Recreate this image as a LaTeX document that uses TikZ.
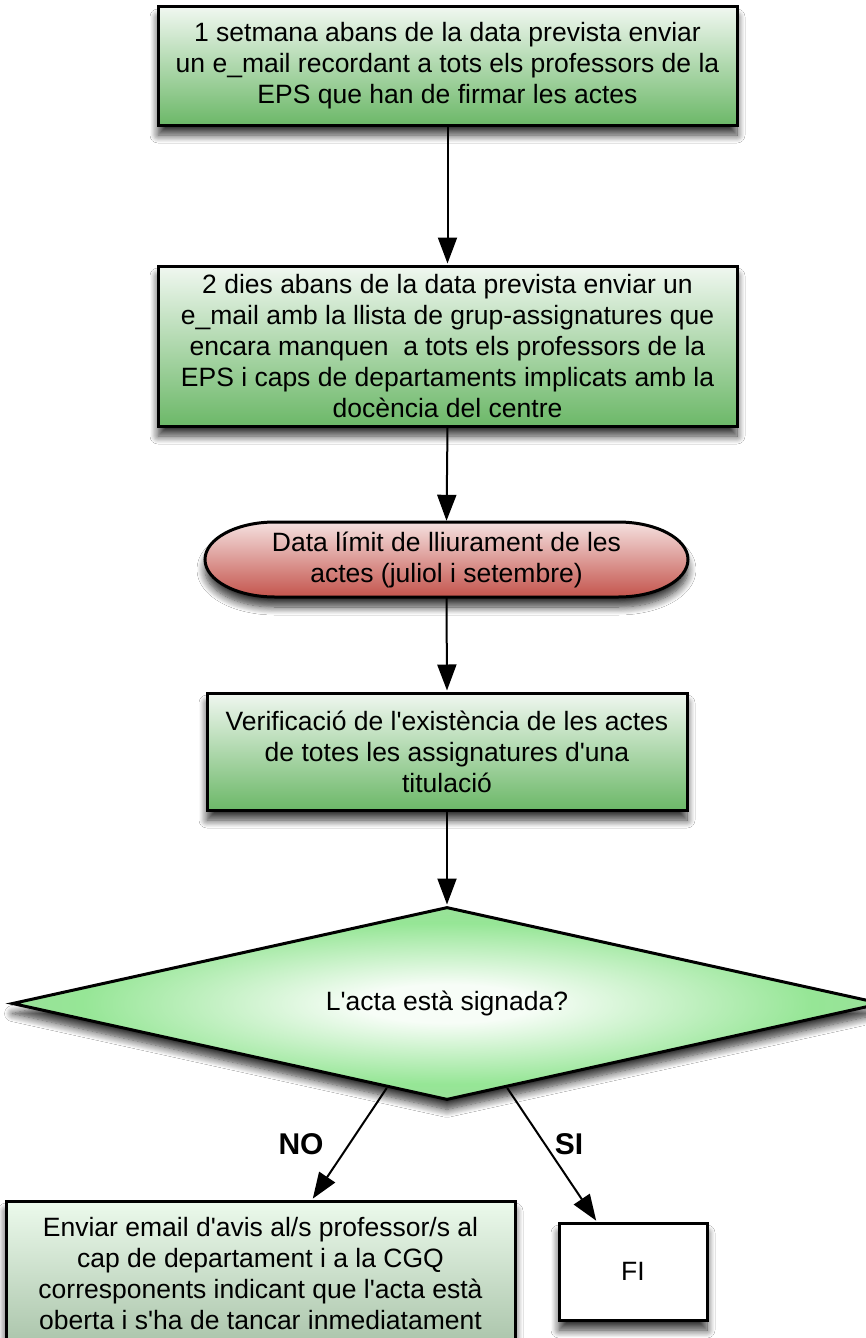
\documentclass[tikz,border=0pt]{standalone}
\usepackage{fontspec}
\setmainfont{Liberation Sans}
\usetikzlibrary{arrows.meta,shapes.geometric,shadows.blur,calc}
\newcommand\ap{\textquotesingle}
\definecolor{gtop}{RGB}{240,247,240}
\definecolor{gbot}{RGB}{108,184,104}
\definecolor{rtop}{RGB}{245,225,224}
\definecolor{rbot}{RGB}{196,84,76}
\definecolor{etop}{RGB}{236,250,236}
\definecolor{emid}{RGB}{162,230,162}
\definecolor{ebot}{RGB}{170,196,170}
\definecolor{dc0}{RGB}{247,253,247}
\definecolor{dc1}{RGB}{150,230,150}
\definecolor{dc2}{RGB}{168,196,168}
\pgfdeclareradialshading{diamsh}{\pgfpoint{0bp}{0bp}}{%
  color(0bp)=(dc0); color(5bp)=(dc0); color(21bp)=(dc1); color(48bp)=(dc2); color(70bp)=(dc2)}
\tikzset{
  txt/.style={font=\fontsize{26.5}{31}\selectfont, align=center, inner sep=0pt},
  shad/.style={blur shadow={shadow xshift=0pt, shadow yshift=-10pt, shadow blur radius=8pt, shadow blur steps=10, shadow opacity=80}},
  gbox/.style={txt, draw, line width=3pt, rectangle, top color=gtop, bottom color=gbot, shad},
  rshape/.style={draw, line width=3pt, top color=rtop, bottom color=rbot, shad},
  dia/.style={txt, draw, line width=3pt, diamond, aspect=4.5, shading=diamsh, shad},
  ebx/.style={txt, draw, line width=3pt, rectangle, top color=etop, middle color=emid, bottom color=ebot, shad},
  wbox/.style={txt, draw, line width=3pt, rectangle, fill=white, shad},
  lbl/.style={font=\fontsize{30}{34}\selectfont\bfseries, inner sep=0pt},
  conn/.style={line width=2pt, -{Triangle[length=26pt,width=19pt,fill=black,color=black]}, shorten >=1pt}
}
\begin{document}
\begin{tikzpicture}[x=1pt,y=-1pt]
\useasboundingbox[fill=white] (0,0) rectangle (865,1338);
\node[gbox, minimum width=579pt, minimum height=118pt] (b1) at (447.5,66)
  {1 setmana abans de la data prevista enviar\\un e\_mail recordant a tots els professors de la\\EPS que han de firmar les actes};
\node[gbox, minimum width=579pt, minimum height=160pt] (b2) at (447.5,346)
  {2 dies abans de la data prevista enviar un\\e\_mail amb la llista de grup-assignatures que\\encara manquen~ a tots els professors de la\\EPS i caps de departaments implicats amb la\\docència del centre};
% terminal shape with elliptical ends
\path[rshape] (275,522) -- (618,522) arc[start angle=-90, end angle=90, x radius=70, y radius=37.5]
  -- (275,597) arc[start angle=90, end angle=270, x radius=70, y radius=37.5] -- cycle;
\node[txt, minimum width=483pt, minimum height=75pt] (e1) at (446.5,559.5)
  {Data límit de lliurament de les\\actes (juliol i setembre)};
\node[gbox, minimum width=480pt, minimum height=117pt] (b3) at (447,751.5)
  {Verificació de l\ap existència de les actes\\de totes les assignatures d\ap una\\titulació};
\node[dia, minimum width=870pt, minimum height=193pt, inner sep=0pt] (d) at (447,1003.5)
  {L\ap acta està signada?};
\node[ebx, minimum width=509pt, minimum height=145pt] (b4) at (260.5,1273.5)
  {Enviar email d\ap avis al/s professor/s al\\cap de departament i a la CGQ\\corresponents indicant que l\ap acta està\\oberta i s\ap ha de tancar inmediatament};
\node[wbox, minimum width=148pt, minimum height=97pt] (fi) at (633,1271.5) {FI};
\node[lbl] (no) at (301,1144) {NO};
\node[lbl] (si) at (569,1144) {SI};
\coordinate (dno) at ($(d.west)!0.862!(d.south)$);
\coordinate (dsi) at ($(d.south)!0.138!(d.east)$);
\draw[conn] (b1.south) -- (b2.north);
\draw[conn] (b2.south) -- (e1.north);
\draw[conn] (e1.south) -- (b3.north);
\draw[conn] (b3.south) -- (d.north);
\draw[conn] (dno) -- ($(b4.north west)!0.601!(b4.north east)$);
\draw[conn] (dsi) -- ($(fi.north west)!0.26!(fi.north east)$);
\end{tikzpicture}
\end{document}
